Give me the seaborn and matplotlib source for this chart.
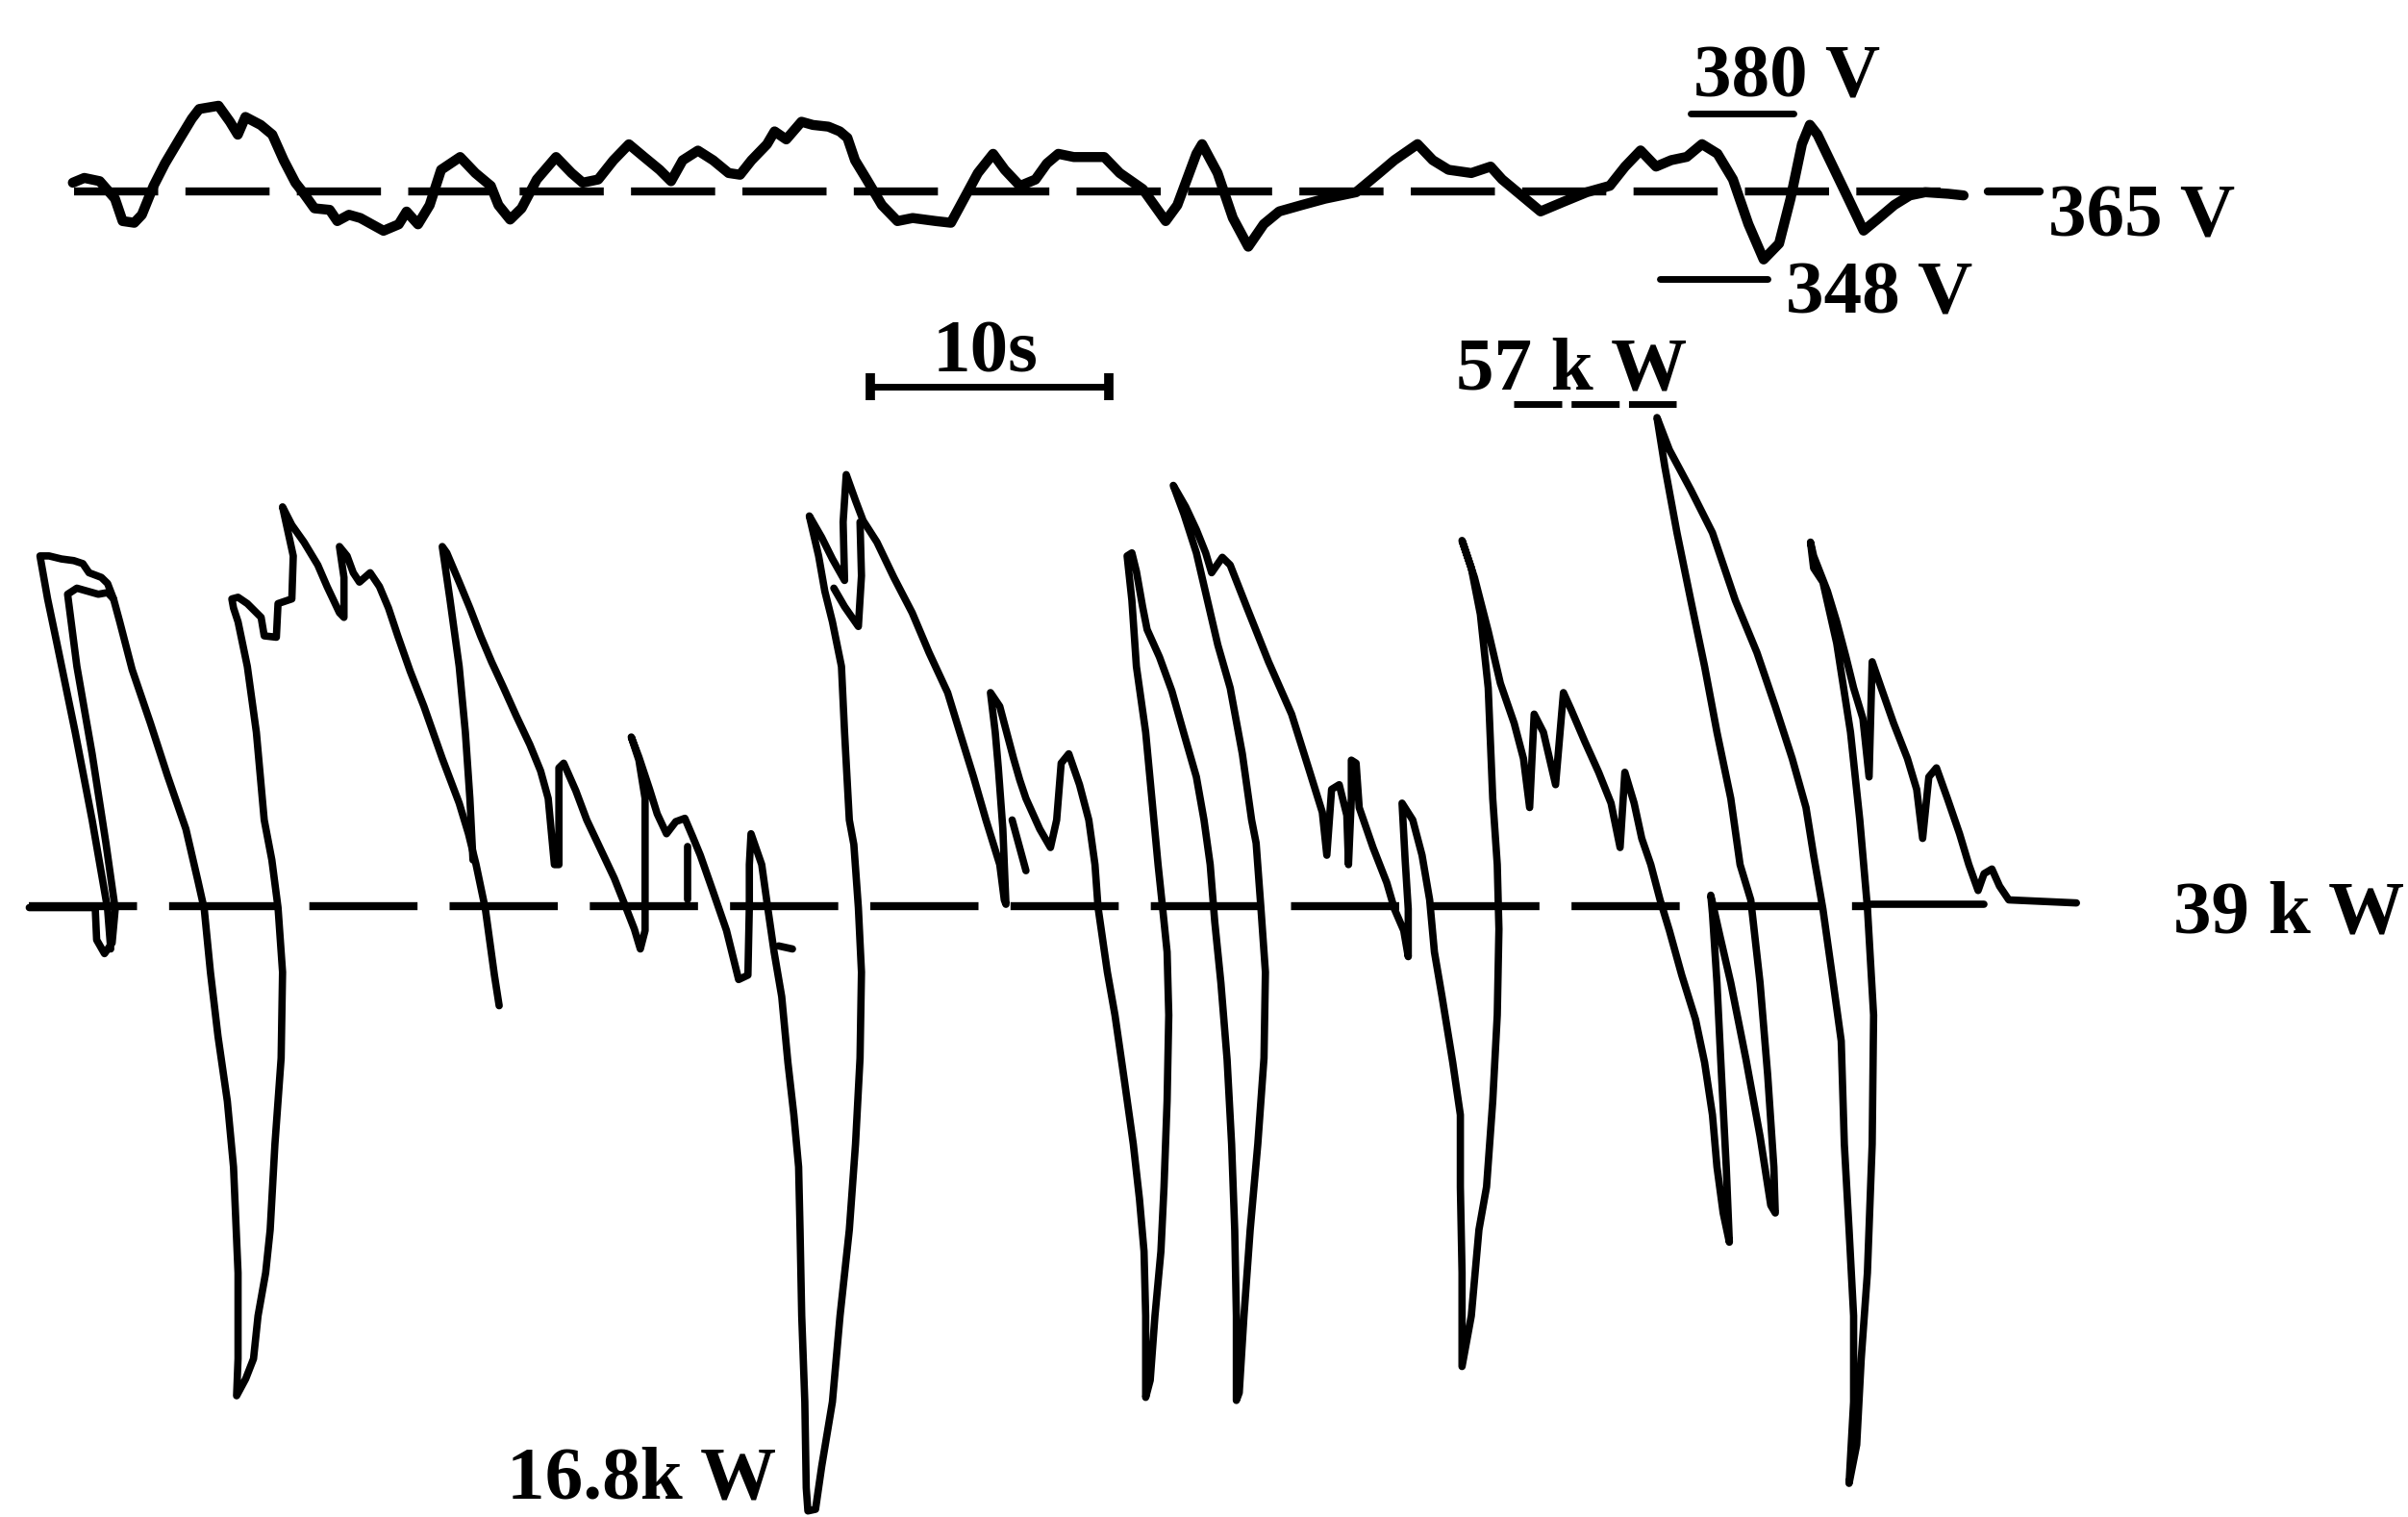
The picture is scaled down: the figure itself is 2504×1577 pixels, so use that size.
import matplotlib
matplotlib.use("Agg")
import matplotlib.pyplot as plt
import pandas as pd
import seaborn as sns

# ==========================================
# 1. DATA
#    time in s, power in kW, voltage in V
# ==========================================

# power trace, drawn as separate pen strokes
inner_loop = [(1.23, 38.94), (4.00, 38.94), (4.06, 37.77), (4.39, 37.27), (4.71, 37.66), (4.84, 38.89),
              (4.45, 41.28), (3.87, 44.52), (3.23, 47.69), (2.84, 50.31), (3.23, 50.53), (3.68, 50.42),
              (4.13, 50.31), (4.52, 50.37), (4.77, 50.14)]

first_cycles = [(4.65, 37.44), (4.52, 38.89), (3.87, 42.12), (3.16, 45.30), (2.39, 48.53), (2.00, 50.14),
                (1.68, 51.70), (2.06, 51.70), (2.58, 51.59), (3.10, 51.53), (3.48, 51.42), (3.74, 51.09),
                (4.26, 50.92), (4.52, 50.70), (4.77, 50.14), (5.03, 49.31), (5.55, 47.58), (6.32, 45.63),
                (7.03, 43.74), (7.81, 41.79), (8.32, 39.89), (8.58, 38.89), (8.84, 36.60), (9.16, 34.26),
                (9.55, 31.92), (9.81, 29.53), (10.00, 25.69), (10.00, 22.57), (9.94, 21.23), (10.32, 21.84),
                (10.65, 22.57), (10.84, 24.13), (11.16, 25.69), (11.35, 27.25), (11.55, 30.36), (11.81, 33.48),
                (11.87, 36.60), (11.68, 38.94), (11.42, 40.67), (11.10, 42.12), (10.77, 45.30), (10.39, 47.69),
                (10.00, 49.31), (9.81, 49.81), (9.74, 50.14), (10.00, 50.20), (10.39, 49.97), (10.97, 49.47),
                (11.10, 48.80), (11.61, 48.75), (11.68, 49.97), (12.26, 50.14), (12.32, 51.70), (11.87, 53.48),
                (12.26, 52.82), (12.77, 52.20), (13.35, 51.37), (13.74, 50.59), (14.26, 49.64), (14.45, 49.47),
                (14.45, 50.92), (14.26, 52.04), (14.58, 51.70), (14.84, 51.09), (15.10, 50.75), (15.55, 51.09),
                (15.94, 50.59), (16.32, 49.81), (16.71, 48.80), (17.23, 47.52), (17.81, 46.24), (18.58, 44.35),
                (19.29, 42.73), (19.68, 41.62), (20.00, 40.50), (20.39, 38.89), (20.77, 36.49), (20.97, 35.38)]

run_a = [(19.87, 40.67), (19.74, 42.90), (19.55, 45.30), (19.29, 47.69), (18.90, 50.14), (18.58, 52.04),
         (18.77, 51.81), (19.29, 50.75), (19.74, 49.81), (20.19, 48.80), (20.65, 47.86), (21.16, 46.91),
         (21.68, 45.91), (22.26, 44.85), (22.71, 43.90), (23.03, 42.90), (23.29, 40.50), (23.48, 40.50),
         (23.48, 44.01), (23.68, 44.18), (24.19, 43.18), (24.65, 42.12), (25.23, 41.06), (25.81, 40.00),
         (26.32, 38.89), (26.65, 38.16), (26.90, 37.44), (27.10, 38.11), (27.10, 40.67), (27.10, 42.90),
         (26.84, 44.29), (26.52, 45.13), (26.84, 44.40), (27.29, 43.23), (27.61, 42.34), (28.00, 41.62),
         (28.39, 42.06), (28.77, 42.18), (29.10, 41.51), (29.42, 40.84), (29.94, 39.56), (30.52, 38.11),
         (31.03, 36.33), (31.42, 36.49), (31.48, 39.00), (31.48, 40.50), (31.55, 41.62), (32.00, 40.50),
         (32.26, 38.89), (32.52, 37.33), (32.84, 35.71), (33.10, 33.32), (33.35, 31.42), (33.55, 29.53),
         (33.61, 27.25), (33.68, 24.13), (33.81, 21.01), (33.87, 17.89), (33.94, 17.05)]

run_b = [(34.26, 17.11), (34.52, 18.67), (34.97, 21.01), (35.29, 24.13), (35.68, 27.25), (35.94, 30.36),
         (36.13, 33.48), (36.19, 36.60), (36.06, 38.94), (35.87, 41.23), (35.68, 42.12), (35.48, 45.30),
         (35.35, 47.69), (34.97, 49.31), (34.65, 50.42), (34.39, 51.70), (34.00, 53.15), (34.52, 52.37),
         (34.97, 51.59), (35.48, 50.81), (35.42, 52.93), (35.55, 54.65), (35.94, 53.71), (36.26, 52.98),
         (36.84, 52.20), (37.55, 50.92), (38.32, 49.64), (39.03, 48.19), (39.81, 46.74), (40.32, 45.30),
         (40.90, 43.68), (41.42, 42.12), (42.00, 40.50), (42.19, 39.22), (42.26, 39.06), (42.13, 41.79),
         (41.94, 44.01), (41.81, 45.30), (41.61, 46.74), (42.00, 46.24), (42.39, 44.96), (42.58, 44.35),
         (42.84, 43.57), (43.10, 42.90), (43.68, 41.79), (44.13, 41.12), (44.39, 42.12), (44.58, 44.18),
         (44.90, 44.52), (45.35, 43.40), (45.74, 42.12), (46.00, 40.50), (46.13, 38.94), (46.52, 36.60),
         (46.84, 35.04), (47.23, 32.70), (47.61, 30.36), (47.87, 28.36), (48.06, 26.47), (48.13, 24.13),
         (48.13, 21.17)]

run_c = [(48.32, 21.79), (48.52, 24.13), (48.77, 26.47), (48.90, 28.81), (49.03, 31.92), (49.10, 35.04),
         (49.03, 37.33), (48.84, 38.94), (48.65, 40.50), (48.39, 42.90), (48.13, 45.30), (47.74, 47.69),
         (47.55, 50.09), (47.35, 51.70), (47.55, 51.81), (47.74, 51.14), (48.00, 49.86), (48.19, 49.03),
         (48.71, 48.03), (49.23, 46.80), (49.74, 45.24), (50.26, 43.68), (50.58, 42.12), (50.84, 40.50),
         (51.03, 38.44), (51.29, 36.21), (51.55, 33.43), (51.74, 30.36), (51.87, 27.25), (51.94, 24.13),
         (51.94, 21.06), (52.06, 21.34), (52.26, 24.13), (52.52, 27.25), (52.84, 30.36), (53.10, 33.48),
         (53.16, 36.60), (52.97, 38.94), (52.77, 41.28), (52.58, 42.12), (52.19, 44.52), (51.68, 46.91),
         (51.16, 48.47), (50.71, 50.14), (50.26, 51.81), (49.74, 53.21), (49.29, 54.26), (49.81, 53.48),
         (50.26, 52.65), (50.65, 51.81), (50.90, 51.09), (51.35, 51.65), (51.68, 51.37), (52.39, 49.81),
         (53.29, 47.86), (54.26, 45.96), (54.97, 44.01), (55.55, 42.40), (55.74, 40.84), (55.94, 43.23),
         (56.26, 43.40), (56.58, 42.29), (56.65, 40.50), (56.77, 42.90), (56.77, 44.29), (56.97, 44.18),
         (57.10, 42.57), (57.68, 41.12), (58.26, 39.84), (58.58, 38.89), (58.97, 38.11), (59.16, 37.16),
         (59.16, 38.89), (59.03, 40.67), (58.90, 42.73), (59.35, 42.12), (59.74, 40.84), (60.06, 39.22),
         (60.26, 37.33), (60.58, 35.71), (61.03, 33.32), (61.35, 31.42), (61.35, 28.81), (61.42, 25.69),
         (61.42, 22.29)]

run_d = [(61.81, 24.13), (62.13, 27.25), (62.45, 28.81), (62.71, 31.92), (62.90, 35.04), (62.97, 38.16),
         (62.90, 40.50), (62.71, 42.90), (62.52, 46.91), (62.19, 49.58), (61.81, 51.26), (61.42, 52.26),
         (61.94, 50.92), (62.52, 48.97), (63.03, 47.08), (63.61, 45.63), (64.00, 44.35), (64.26, 42.57),
         (64.45, 45.96), (64.84, 45.30), (65.35, 43.40), (65.68, 46.74), (66.00, 46.13), (66.58, 44.96),
         (67.16, 43.85), (67.68, 42.73), (68.06, 41.12), (68.26, 43.85), (68.65, 42.73), (68.97, 41.45),
         (69.35, 40.50), (69.74, 39.22), (70.13, 38.11), (70.65, 36.49), (71.23, 34.88), (71.61, 33.32),
         (71.94, 31.42), (72.13, 29.53), (72.39, 27.86), (72.65, 26.80)]

run_e = [(72.52, 29.53), (72.32, 32.87), (72.13, 36.21), (71.94, 38.72), (71.87, 39.39), (72.26, 37.89),
         (72.71, 36.21), (73.35, 33.43), (73.94, 30.64), (74.39, 28.14), (74.58, 27.86), (74.52, 29.53),
         (74.26, 32.87), (73.94, 36.21), (73.55, 39.22), (73.10, 40.50), (72.71, 42.90), (72.13, 45.30),
         (71.61, 47.69), (71.03, 50.09), (70.45, 52.54), (69.94, 54.93), (69.61, 56.72), (70.13, 55.55),
         (71.03, 54.10), (71.94, 52.54), (72.90, 50.09), (73.81, 48.19), (74.58, 46.24), (75.29, 44.35),
         (75.87, 42.57), (76.19, 40.84), (76.58, 38.89), (76.97, 36.49), (77.35, 34.10), (77.48, 30.36),
         (77.68, 27.25), (77.87, 24.13), (77.87, 21.01), (77.68, 18.05)]

run_f = [(78.00, 19.45), (78.19, 22.57), (78.45, 25.69), (78.65, 30.36), (78.71, 35.04), (78.45, 38.94),
         (78.13, 42.12), (77.74, 45.30), (77.16, 48.53), (76.58, 50.75), (76.19, 51.26), (76.06, 52.20),
         (76.19, 51.70), (76.77, 50.42), (77.16, 49.31), (77.55, 48.03), (77.87, 46.91), (78.26, 45.80),
         (78.52, 43.68), (78.65, 47.86), (79.03, 46.91), (79.55, 45.63), (80.13, 44.35), (80.52, 43.23),
         (80.77, 41.45), (81.03, 43.68), (81.35, 44.01), (81.81, 42.90), (82.32, 41.62), (82.71, 40.50),
         (83.10, 39.56), (83.35, 40.17), (83.68, 40.34), (84.00, 39.72), (84.39, 39.22), (87.23, 39.11)]

notch = [(36.13, 52.93), (36.19, 50.98), (36.06, 49.14), (35.48, 49.86), (35.03, 50.53)]
branch = [(42.52, 42.12), (43.10, 40.28)]
tick = [(32.71, 37.55), (33.29, 37.44)]
stub = [(28.90, 41.17), (28.90, 39.22)]
tail = [(78.45, 39.06), (83.35, 39.06)]

# voltage trace
volt_a = [(3.06, 366.64), (3.54, 367.56), (4.19, 366.93), (4.83, 363.54), (5.15, 359.20), (5.64, 358.87),
          (5.96, 360.42), (6.45, 366.01), (6.93, 370.36), (7.57, 375.33), (8.06, 379.05), (8.37, 380.92),
          (9.18, 381.55), (9.66, 378.45), (9.99, 375.95), (10.31, 379.38), (10.95, 377.83), (11.44, 375.95),
          (11.92, 370.98), (12.41, 366.64), (12.73, 364.76), (13.21, 361.67), (13.85, 361.37), (14.17, 359.20),
          (14.66, 360.42), (15.14, 359.79), (16.11, 357.32), (16.75, 358.57), (17.08, 361.04), (17.56, 358.57),
          (18.05, 362.29), (18.53, 369.14), (19.33, 371.61), (19.97, 368.51), (20.62, 366.01), (20.94, 362.29),
          (21.43, 359.49), (21.91, 361.67), (22.55, 367.26), (23.36, 371.61), (24.01, 368.51), (24.48, 366.64),
          (25.13, 367.26), (25.77, 370.98), (26.42, 374.08), (27.06, 371.61), (27.71, 369.14), (28.19, 366.93),
          (28.68, 370.98), (29.32, 372.86), (29.96, 370.98), (30.61, 368.51), (31.09, 368.18), (31.57, 370.98),
          (32.22, 374.08), (32.54, 376.58), (33.03, 375.03), (33.67, 378.45), (34.15, 377.83), (34.80, 377.50),
          (35.28, 376.58), (35.60, 375.33), (35.92, 370.98), (36.41, 367.26), (37.05, 362.29), (37.70, 359.20),
          (38.34, 359.79), (39.31, 359.20), (39.95, 358.87), (40.28, 361.67), (41.08, 368.51), (41.72, 372.23),
          (42.21, 369.14), (42.85, 366.01), (43.50, 367.26), (43.98, 370.36), (44.46, 372.23), (45.11, 371.61),
          (46.39, 371.61), (47.04, 368.51), (48.01, 365.39), (48.97, 359.20), (49.46, 362.29), (50.26, 372.23)]

volt_b = [(50.50, 374.11), (51.15, 368.51), (51.79, 359.82), (52.44, 354.23), (53.09, 358.60), (53.74, 361.07),
          (54.70, 362.32), (55.67, 363.54), (56.97, 364.79), (57.94, 368.51), (58.58, 371.01), (59.55, 374.11),
          (60.19, 371.01), (60.85, 369.14), (61.81, 368.51), (62.62, 369.76), (63.10, 367.29), (63.75, 364.79),
          (64.72, 361.07), (65.69, 362.95), (66.66, 364.79), (67.63, 366.04), (68.27, 369.76), (68.92, 372.89),
          (69.57, 369.76), (70.21, 371.01), (70.86, 371.64), (71.50, 374.11), (72.15, 372.26), (72.80, 367.29),
          (73.45, 358.60), (74.09, 351.76), (74.74, 354.85), (75.22, 363.54), (75.70, 374.11), (76.03, 377.86),
          (76.35, 375.98), (77.00, 369.76), (77.65, 363.54), (78.29, 357.35), (78.94, 359.82), (79.58, 362.32),
          (80.23, 364.17), (80.88, 364.79), (81.85, 364.49), (82.49, 364.17)]

# reference levels
kw_base = 39.0
kw_peak = 57.2
volt_base = 365.0
volt_high = 380.0
volt_low = 348.0
scale_bar_s = (36.58, 46.58)   # 10 s

# ==========================================
# 2. TABLES
# ==========================================
power_strokes = {
    "inner": inner_loop, "first": first_cycles,
    "main": run_a + run_b + run_c + run_d + run_e + run_f,
    "notch": notch, "branch": branch, "tick": tick, "stub": stub, "tail": tail,
}
power_df = pd.DataFrame(
    [(name, t, p) for name, pts in power_strokes.items() for t, p in pts],
    columns=["stroke", "t", "kW"],
)
volt_df = pd.DataFrame(volt_a + volt_b, columns=["t", "V"])

# ==========================================
# 3. PLOT
# ==========================================
sns.set_theme(style="white")
plt.rcParams["font.family"] = ["Liberation Serif", "DejaVu Serif"]

fig = plt.figure(figsize=(25.04, 15.77), dpi=100)
ax = fig.add_axes([0, 0, 1, 1])
ax.set_xlim(0, 101.16)
ax.set_ylim(16.83, 71.87)
axv = ax.twinx()
axv.set_ylim(108.0, 402.05)

line_kw = dict(color="black", solid_joinstyle="round", solid_capstyle="round")

sns.lineplot(data=power_df, x="t", y="kW", units="stroke", estimator=None, sort=False,
             linewidth=5.5, legend=False, ax=ax, **line_kw)
sns.lineplot(data=volt_df, x="t", y="V", estimator=None, sort=False,
             linewidth=7.5, legend=False, ax=axv, **line_kw)

# dashed zero lines
ax.plot([1.23, 78.45], [kw_base, kw_base], color="black", lw=6.0, ls=(0, (13.5, 4.0)))
axv.plot([3.1, 82.6], [volt_base, volt_base], color="black", lw=6.0, ls=(0, (10.5, 3.4)))

# markers for the extreme values
ax.plot([63.6, 70.4], [kw_peak, kw_peak], color="black", lw=5.0, ls=(0, (7.2, 1.4)))
axv.plot([71.03, 75.35], [volt_high, volt_high], color="black", lw=5.0)
axv.plot([69.74, 74.26], [volt_low, volt_low], color="black", lw=5.0)
axv.plot([83.5, 85.7], [volt_base, volt_base], color="black", lw=6.0)

# 10 s scale bar
ax.plot(list(scale_bar_s), [57.83, 57.83], color="black", lw=5.0,
        marker="|", markersize=20, markeredgewidth=7)

txt = dict(fontsize=57, fontweight="bold", color="black", va="baseline")
ax.text(39.16, 58.39, "10s", ha="left", **txt)
ax.text(61.16, 57.75, "57 k W", ha="left", **txt)
ax.text(101.0, 38.05, "39 k W", ha="right", **txt)
ax.text(21.29, 17.50, "16.8k W", ha="left", **txt)
axv.text(71.16, 383.3, "380 V", ha="left", **txt)
axv.text(86.06, 356.2, "365 V", ha="left", **txt)
axv.text(75.03, 341.3, "348 V", ha="left", **txt)

ax.axis("off")
axv.axis("off")

fig.savefig("out.png", dpi=100, facecolor="white")
